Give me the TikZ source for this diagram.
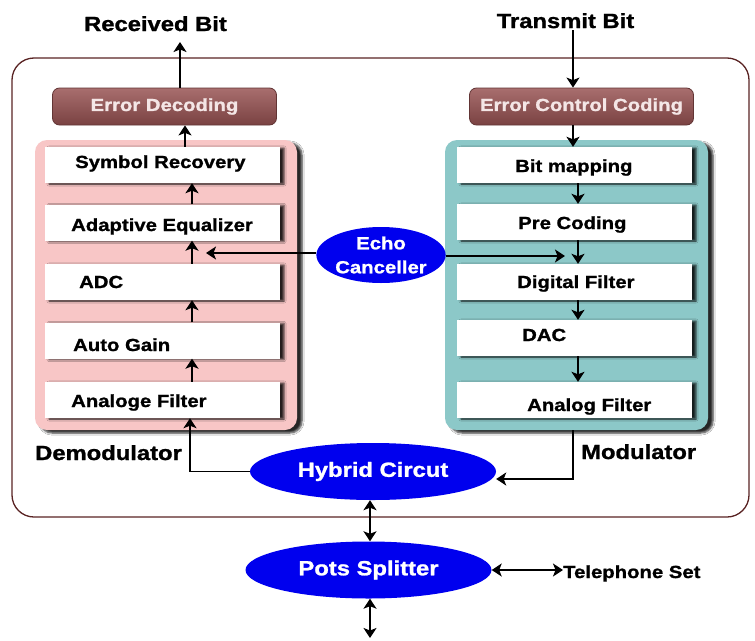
\documentclass[tikz,border=0pt]{standalone}
\usepackage{fontspec}
\setmainfont{Liberation Sans}[FakeStretch=1.16,BoldFeatures={FakeBold=1.2}]
\usetikzlibrary{arrows.meta,shapes.geometric,shadows.blur,calc}
\definecolor{framec}{HTML}{5A2424}
\definecolor{ebtop}{HTML}{A86E6E}
\definecolor{ebbot}{HTML}{7A4242}
\definecolor{ebtext}{HTML}{F4E6E6}
\definecolor{pinkc}{HTML}{F8C6C6}
\definecolor{tealc}{HTML}{8CC8C8}
\definecolor{bblue}{HTML}{0000EE}
\begin{document}
\begin{tikzpicture}[x=1pt,y=-1pt,
  frame/.style={draw=framec,line width=1.3pt,rounded corners=22pt},
  ebox/.style={rectangle,rounded corners=7pt,minimum width=224pt,minimum height=37pt,inner sep=0pt,
     top color=ebtop,bottom color=ebbot,draw=ebbot!80!black,line width=0.8pt,text=ebtext,
     font=\bfseries\fontsize{17.5}{20}\selectfont},
  panel/.style={rectangle,rounded corners=12pt,minimum height=290pt,inner sep=0pt,
     blur shadow={shadow xshift=5pt,shadow yshift=-3pt,shadow blur steps=5,shadow opacity=85}},
  wbox/.style={rectangle,fill=white,minimum width=235pt,minimum height=36pt,inner sep=0pt,
     blur shadow={shadow xshift=4pt,shadow yshift=-1pt,shadow blur steps=3,shadow opacity=85}},
  lbl/.style={anchor=base west,inner sep=0pt,font=\bfseries\fontsize{17.5}{20}\selectfont},
  big/.style={inner sep=0pt,font=\bfseries\fontsize{20.5}{24}\selectfont},
  bell/.style={ellipse,fill=bblue,text=white,inner sep=0pt,minimum width=246pt,minimum height=57pt,
     font=\bfseries\fontsize{20.5}{24}\selectfont},
  arr/.style={-{Stealth[length=10pt,width=13pt,inset=2.5pt]},line width=1.5pt},
  darr/.style={{Stealth[length=10pt,width=13pt,inset=2.5pt]}-{Stealth[length=10pt,width=13pt,inset=2.5pt]},line width=1.5pt}]
\useasboundingbox (0,0) rectangle (755,640);
\fill[white] (0,0) rectangle (755,640);

% outer frame
\draw[frame] (12,58) rectangle (749,517);

% titles
\node[big,anchor=base] (rb) at (155.5,31) {Received Bit};
\node[big,anchor=base] (tb) at (565.5,28) {Transmit Bit};

% error boxes
\node[ebox] (ed) at (164.5,106.5) {Error Decoding};
\node[ebox] (ecc) at (581.5,106.5) {Error Control Coding};

% panels
\node[panel,fill=pinkc,minimum width=262pt] (dem) at (166,285) {};
\node[panel,fill=tealc,minimum width=263pt] (mod) at (576.5,285) {};

% left boxes
\node[wbox] (sr)  at (162.5,165) {};
\node[wbox] (ae)  at (162.5,222.5) {};
\node[wbox] (adc) at (162.5,282) {};
\node[wbox] (ag)  at (162.5,340.5) {};
\node[wbox] (af)  at (162.5,400) {};
\node[lbl] (srt)  at (75,168) {Symbol Recovery};
\node[lbl] (aet)  at (71,231) {Adaptive Equalizer};
\node[lbl] (adct) at (79,288) {ADC};
\node[lbl] (agt)  at (73,351) {Auto Gain};
\node[lbl] (aft)  at (71,407) {Analoge Filter};

% right boxes
\node[wbox] (bm)  at (574.5,165) {};
\node[wbox] (pc)  at (574.5,222) {};
\node[wbox] (df)  at (574.5,282) {};
\node[wbox] (dac) at (574.5,338) {};
\node[wbox] (anf) at (574.5,400) {};
\node[lbl] (bmt)  at (515,172) {Bit mapping};
\node[lbl] (pct)  at (518,229) {Pre Coding};
\node[lbl] (dft)  at (517,288) {Digital Filter};
\node[lbl] (dact) at (522,341) {DAC};
\node[lbl] (anft) at (527,411) {Analog Filter};

% ellipses
\node[ellipse,fill=bblue,text=white,inner sep=0pt,minimum width=112pt,minimum height=56pt,align=center,
  font=\bfseries\fontsize{17.5}{24}\selectfont] (echo) at (381,255) {Echo\\Canceller};
\node[bell] (hy) at (373,471.5) {Hybrid Circut};
\node[bell] (pots) at (368.5,570) {Pots Splitter};

% side labels
\node[big,anchor=base west] (demt) at (35,460) {Demodulator};
\node[big,anchor=base west] (modt) at (581,459) {Modulator};
\node[lbl] (tel) at (563,578) {Telephone Set};

% column coordinates
\coordinate (rbtip) at (180,42);
\coordinate (tbs) at (573,30);
\coordinate (cl1) at (185,0);
\coordinate (cl) at (192,0);
\coordinate (cr) at (578,0);
\coordinate (ecl) at (206,0);
\coordinate (ecr) at (565,0);
\coordinate (lfeed) at (190,0);
\coordinate (mfeed) at (573,0);
\coordinate (bot) at (370,638);

% connectors
\draw[arr] (ed.north -| rbtip) -- (rbtip);
\draw[arr] (tbs) -- (tbs |- ecc.north);
\draw[arr] (sr.north -| cl1) -- (ed.south -| cl1);
\draw[arr] (ae.north -| cl) -- (sr.south -| cl);
\draw[arr] (adc.north -| cl) -- (ae.south -| cl);
\draw[arr] (ag.north -| cl) -- (adc.south -| cl);
\draw[arr] (af.north -| cl) -- (ag.south -| cl);

\draw[arr] (ecc.south -| tbs) -- (bm.north -| tbs);
\draw[arr] (bm.south -| cr) -- (pc.north -| cr);
\draw[arr] (pc.south -| cr) -- (df.north -| cr);
\draw[arr] (df.south -| cr) -- (dac.north -| cr);
\draw[arr] (dac.south -| cr) -- (anf.north -| cr);

\draw[arr] ($(echo.west)+(0,-2)$) -- ($(echo.west -| ecl)+(0,-2)$);
\draw[arr] ($(echo.east)+(0,1)$) -- ($(echo.east -| ecr)+(0,1)$);

\draw[arr] (hy.west) -| (af.south -| lfeed);
\draw[arr] (mod.south -| mfeed) |- ($(hy.east)+(0,7.5)$);

\draw[darr] (hy.south -| bot) -- (pots.north -| bot);
\draw[darr] (pots.east) -- (pots.east -| tel.west);
\draw[darr] (pots.south -| bot) -- (bot);
\end{tikzpicture}
\end{document}
